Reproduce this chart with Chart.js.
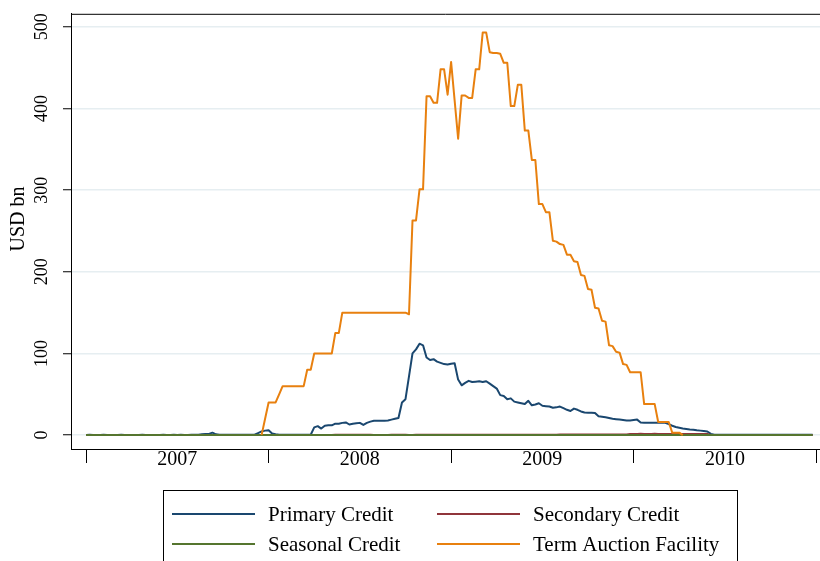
<!DOCTYPE html>
<html>
<head>
<meta charset="utf-8">
<script src="https://cdn.jsdelivr.net/npm/chart.js@4.4.1/dist/chart.umd.min.js"></script>
<style>
  html, body { margin: 0; padding: 0; background: #fff; }
</style>
</head>
<body>
<canvas id="fedChart" width="820" height="561"></canvas>
<script>
// weekly observations, 52 per year, first week of 2007 = index 0
const yearLabels = ['2007', '2008', '2009', '2010'];
const yTicks = [0, 100, 200, 300, 400, 500];

// USD bn
const primaryCredit = [
  // 2007
  0.2, 0.3, 0.2, 0.1, 0.2, 0.3, 0.2, 0.2, 0.1, 0.2, 0.3, 0.2, 0.2,
  0.2, 0.1, 0.2, 0.3, 0.2, 0.2, 0.1, 0.2, 0.2, 0.3, 0.2, 0.2, 0.3,
  0.2, 0.3, 0.2, 0.2, 0.3, 0.4, 0.5, 1.0, 1.5, 1.5, 3.0, 1.0, 0.5,
  0.4, 0.5, 0.4, 0.3, 0.4, 0.5, 0.4, 0.4, 0.5, 0.5, 2.5, 4.5, 5.5,
  // 2008
  6, 2, 1, 0.5, 0.4, 0.4, 0.5, 0.4, 0.4, 0.5, 0.4, 0.4, 0.5,
  9.5, 11, 8, 11.5, 12, 12, 14, 14, 15, 15.5, 13, 14, 14.5,
  15, 12.5, 15, 16.5, 17.5, 17.5, 17.5, 17.5, 18, 19, 20, 21, 40,
  44, 72, 100, 105, 112, 110, 95, 92, 93, 90, 88.5, 87, 86.5,
  // 2009
  87.5, 88, 68, 61, 64, 66.5, 65, 65.5, 66, 65, 66, 63, 60,
  57, 49, 48, 44, 45, 41, 40, 39, 38, 42, 36.5, 37.5, 39,
  36, 35.5, 35, 33.5, 34, 35, 33, 31, 29.5, 32.5, 31, 29, 27.7,
  27.5, 27.3, 27, 23, 22.5, 22, 21, 20, 19.5, 19, 18.5, 18, 18,
  // 2010
  18.5, 19, 15.5, 15.3, 15.2, 15.1, 15, 15, 15, 15, 13.5, 11.5, 10,
  9, 8, 7.5, 7, 6.7, 6, 5.5, 5, 4.5, 1.5, 0.5, 0.5, 0.5,
  0.5, 0.4, 0.5, 0.5, 0.6, 0.5, 0.4, 0.5, 0.5, 0.5, 0.4, 0.5, 0.5,
  0.5, 0.5, 0.4, 0.5, 0.5, 0.5, 0.4, 0.5, 0.5, 0.5, 0.4, 0.5, 0.5
];

const secondaryCredit = [
  // 2007
  0, 0, 0, 0, 0, 0, 0, 0, 0, 0, 0, 0, 0,
  0, 0, 0, 0, 0, 0, 0, 0, 0, 0, 0, 0, 0,
  0, 0, 0, 0, 0, 0, 0, 0.1, 0.1, 0.1, 0.1, 0, 0,
  0, 0, 0, 0, 0, 0, 0, 0, 0, 0, 0, 0, 0,
  // 2008
  0, 0, 0, 0, 0, 0, 0, 0, 0, 0, 0, 0, 0,
  0.1, 0.1, 0.1, 0.2, 0.2, 0.2, 0.3, 0.3, 0.3, 0.3, 0.3, 0.3, 0.4,
  0.4, 0.4, 0.3, 0.3, 0.2, 0.2, 0.2, 0.2, 0.2, 0.3, 0.3, 0.3, 0.3,
  0.3, 0.2, 0.2, 0.3, 0.3, 0.3, 0.3, 0.3, 0.3, 0.3, 0.3, 0.3, 0.3,
  // 2009
  0.3, 0.3, 0.3, 0.3, 0.3, 0.3, 0.4, 0.4, 0.4, 0.4, 0.4, 0.4, 0.4,
  0.4, 0.4, 0.5, 0.5, 0.5, 0.5, 0.5, 0.5, 0.5, 0.5, 0.5, 0.5, 0.5,
  0.5, 0.5, 0.5, 0.5, 0.5, 0.8, 0.8, 0.8, 0.9, 0.8, 0.8, 0.8, 0.8,
  0.8, 0.9, 0.8, 0.8, 0.8, 0.8, 0.8, 0.9, 0.8, 0.8, 0.8, 0.8, 1.5,
  // 2010
  1.5, 1.5, 1.6, 1.5, 1.5, 1.5, 1.6, 1.5, 1.5, 1.5, 1.5, 1.5, 1.5,
  1.5, 1.4, 1.5, 1.5, 1.5, 1.5, 1.4, 1.5, 1.5, 0.2, 0.2, 0.2, 0.2,
  0.2, 0.2, 0.2, 0.2, 0.2, 0.2, 0.2, 0.2, 0.2, 0.2, 0.2, 0.2, 0.2,
  0.2, 0.2, 0.2, 0.2, 0.2, 0.2, 0.2, 0.2, 0.2, 0.2, 0.2, 0.2, 0.2
];

const seasonalCredit = [
  // 2007
  0.0, 0.0, 0.0, 0.0, 0.0, 0.0, 0.0, 0.0, 0.0, 0.0, 0.0, 0.0, 0.0,
  0.0, 0.0, 0.1, 0.1, 0.1, 0.1, 0.1, 0.2, 0.2, 0.2, 0.2, 0.2, 0.2,
  0.2, 0.2, 0.2, 0.2, 0.2, 0.2, 0.2, 0.2, 0.2, 0.2, 0.1, 0.1, 0.1,
  0.1, 0.1, 0.0, 0.0, 0.0, 0.0, 0.0, 0.0, 0.0, 0.0, 0.0, 0.0, 0.0,
  // 2008
  0.0, 0.0, 0.0, 0.0, 0.0, 0.0, 0.0, 0.0, 0.0, 0.0, 0.0, 0.0, 0.0,
  0.0, 0.0, 0.1, 0.1, 0.1, 0.1, 0.1, 0.1, 0.1, 0.1, 0.2, 0.2, 0.2,
  0.2, 0.2, 0.2, 0.2, 0.2, 0.2, 0.2, 0.2, 0.2, 0.2, 0.1, 0.1, 0.1,
  0.1, 0.1, 0.1, 0.0, 0.0, 0.0, 0.0, 0.0, 0.0, 0.0, 0.0, 0.0, 0.0,
  // 2009
  0.0, 0.0, 0.0, 0.0, 0.0, 0.0, 0.0, 0.0, 0.0, 0.0, 0.0, 0.0, 0.0,
  0.0, 0.0, 0.0, 0.0, 0.0, 0.0, 0.0, 0.0, 0.0, 0.0, 0.0, 0.0, 0.0,
  0.1, 0.1, 0.1, 0.1, 0.1, 0.1, 0.1, 0.1, 0.1, 0.1, 0.1, 0.0, 0.0,
  0.0, 0.0, 0.0, 0.0, 0.0, 0.0, 0.0, 0.0, 0.0, 0.0, 0.0, 0.0, 0.0,
  // 2010
  0.0, 0.0, 0.0, 0.0, 0.0, 0.0, 0.0, 0.0, 0.0, 0.0, 0.0, 0.0, 0.0,
  0.0, 0.0, 0.0, 0.0, 0.0, 0.0, 0.0, 0.0, 0.0, 0.0, 0.0, 0.0, 0.0,
  0.1, 0.1, 0.1, 0.1, 0.1, 0.1, 0.1, 0.1, 0.1, 0.1, 0.1, 0.0, 0.0,
  0.0, 0.0, 0.0, 0.0, 0.0, 0.0, 0.0, 0.0, 0.0, 0.0, 0.0, 0.0, 0.0
];

const n = null;
const termAuctionFacility = [
  // 2007 (facility starts mid-December)
  n, n, n, n, n, n, n, n, n, n, n, n, n,
  n, n, n, n, n, n, n, n, n, n, n, n, n,
  n, n, n, n, n, n, n, n, n, n, n, n, n,
  n, n, n, n, n, n, n, n, n, n, n, 0, 20,
  // 2008
  40, 40, 40, 50, 60, 60, 60, 60, 60, 60, 60, 80, 80,
  100, 100, 100, 100, 100, 100, 125, 125, 150, 150, 150, 150, 150,
  150, 150, 150, 150, 150, 150, 150, 150, 150, 150, 150, 150, 150,
  150, 148, 263, 263, 301, 301, 415, 415, 407, 407, 448, 448, 417,
  // 2009
  457, 410, 363, 416, 416, 413, 413, 448, 448, 493, 493, 469, 468,
  468, 467, 456, 456, 403, 403, 429, 429, 373, 373, 337, 337, 283,
  283, 273, 273, 238, 237, 234, 233, 221, 221, 213, 212, 196, 195,
  179, 178, 156, 155, 140, 139, 110, 109, 102, 101, 87, 86, 77,
  // 2010
  77, 77, 77, 38, 38, 38, 38, 16, 16, 16, 16, 3, 3,
  3, 0, n, n, n, n, n, n, n, n, n, n, n,
  n, n, n, n, n, n, n, n, n, n, n, n, n,
  n, n, n, n, n, n, n, n, n, n, n, n, n
];

const serif = '"Liberation Serif", "Times New Roman", serif';
const toPoints = arr => arr.map((v, i) => ({ x: i, y: v }));

// tick marks at the year boundaries, labels in the middle of each year
const xTickValues = [];
yearLabels.forEach((_, k) => { xTickValues.push(k * 52, k * 52 + 26); });
xTickValues.push(yearLabels.length * 52);

// draws the top frame line, the rotated y labels, the y title and the boxed legend
const stataFrame = {
    id: 'stataFrame',
    afterDraw(chart) {
        const { ctx, chartArea: area } = chart;
        const y = chart.scales.y;
        ctx.save();

        ctx.strokeStyle = '#000';
        ctx.lineWidth = 1;
        ctx.beginPath();
        ctx.moveTo(area.left, area.top + 0.5);
        ctx.lineTo(area.right, area.top + 0.5);
        ctx.stroke();

        ctx.fillStyle = '#000';
        ctx.textAlign = 'center';
        ctx.textBaseline = 'middle';
        ctx.font = '18px ' + serif;
        y.ticks.forEach(t => {
            ctx.save();
            ctx.translate(area.left - 29, y.getPixelForValue(t.value));
            ctx.rotate(-Math.PI / 2);
            ctx.fillText(String(t.value), 0, 0);
            ctx.restore();
        });

        ctx.font = '20px ' + serif;
        ctx.save();
        ctx.translate(19, 219);
        ctx.rotate(-Math.PI / 2);
        ctx.fillText('USD bn', 0, 0);
        ctx.restore();

        // legend box, two columns
        ctx.strokeStyle = '#000';
        ctx.lineWidth = 1;
        ctx.strokeRect(163.5, 490.5, 574, 100);
        const slots = [[172, 514], [437, 514], [172, 544], [437, 544]];
        const legendOrder = [0, 1, 2, 3];
        ctx.font = '21px ' + serif;
        ctx.textAlign = 'left';
        legendOrder.forEach((di, k) => {
            const ds = chart.data.datasets[di];
            const [lx, ly] = slots[k];
            ctx.strokeStyle = ds.borderColor;
            ctx.lineWidth = 2;
            ctx.beginPath();
            ctx.moveTo(lx, ly);
            ctx.lineTo(lx + 83, ly);
            ctx.stroke();
            ctx.fillText(ds.label, lx + 96, ly + 1);
        });
        ctx.restore();
    }
};

const ctx = document.getElementById('fedChart').getContext('2d');
new Chart(ctx, {
    type: 'line',
    data: {
        datasets: [
            { label: 'Primary Credit', data: toPoints(primaryCredit), borderColor: '#1a476f', order: 4 },
            { label: 'Secondary Credit', data: toPoints(secondaryCredit), borderColor: '#90353b', order: 3 },
            { label: 'Seasonal Credit', data: toPoints(seasonalCredit), borderColor: '#55752f', order: 2 },
            { label: 'Term Auction Facility', data: toPoints(termAuctionFacility), borderColor: '#e8800f', order: 1 }
        ]
    },
    options: {
        responsive: false,
        devicePixelRatio: 1,
        animation: false,
        layout: { padding: { top: 11, left: 0, right: 0, bottom: 0 } },
        elements: {
            point: { radius: 0 },
            line: { borderWidth: 2, tension: 0, borderJoinStyle: 'round' }
        },
        plugins: {
            legend: { display: false },
            tooltip: { enabled: false }
        },
        scales: {
            x: {
                type: 'linear',
                min: -4.3,
                max: 209.1,
                afterBuildTicks: s => { s.ticks = xTickValues.map(v => ({ value: v })); },
                afterFit: s => { s.height = 112; },
                border: { color: '#000', width: 1 },
                grid: {
                    drawOnChartArea: false,
                    tickLength: 14,
                    tickWidth: 1,
                    tickColor: c => (c.tick && c.tick.value % 52 === 0) ? '#000' : 'rgba(0,0,0,0)'
                },
                ticks: {
                    autoSkip: false,
                    maxRotation: 0,
                    padding: -15,
                    color: '#000',
                    font: { family: serif, size: 20 },
                    callback: v => (v % 52 === 26) ? yearLabels[(v - 26) / 52] : ''
                }
            },
            y: {
                min: -17,
                max: 516,
                afterBuildTicks: s => { s.ticks = yTicks.map(v => ({ value: v })); },
                afterFit: s => { s.width = 71; },
                border: { color: '#000', width: 1 },
                grid: { color: '#e6eef1', lineWidth: 1.5, tickLength: 8, tickColor: '#000', tickWidth: 1 },
                ticks: { color: 'rgba(0,0,0,0)', font: { family: serif, size: 18 } }
            }
        }
    },
    plugins: [stataFrame]
});
</script>
</body>
</html>
